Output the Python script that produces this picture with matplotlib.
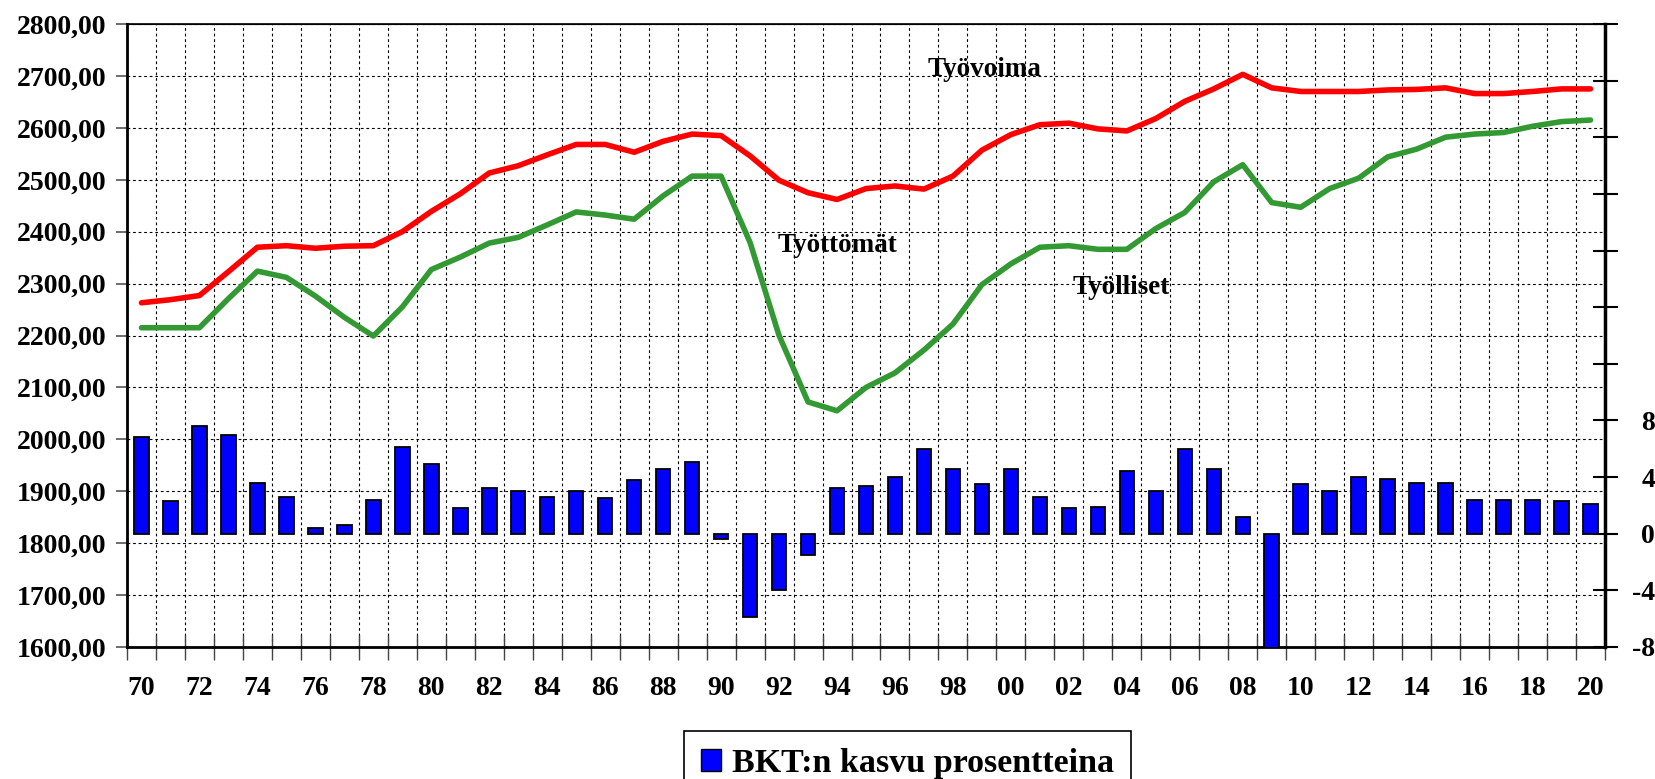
import matplotlib
matplotlib.use('Agg')
import matplotlib.pyplot as plt
import numpy as np
from matplotlib.patches import Rectangle

years = list(range(1970, 2021))
year_labels = [f"{y % 100:02d}" for y in years]

tyovoima = [2263, 2269, 2277, 2323, 2370, 2373, 2368, 2372, 2373, 2400,
            2439, 2473, 2513, 2527, 2548, 2568, 2568, 2553, 2574, 2588,
            2585, 2546, 2499, 2475, 2462, 2483, 2488, 2482, 2507, 2557,
            2587, 2606, 2609, 2598, 2594, 2618, 2651, 2675, 2703, 2677,
            2670, 2670, 2670, 2673, 2674, 2677, 2666, 2666, 2670, 2675,
            2675]
tyolliset = [2215, 2215, 2215, 2271, 2324, 2312, 2276, 2235, 2199, 2255,
             2327, 2351, 2378, 2389, 2413, 2438, 2432, 2424, 2469, 2507,
             2507, 2379, 2200, 2072, 2055, 2100, 2128, 2172, 2222, 2298,
             2338, 2370, 2373, 2366, 2366, 2406, 2437, 2496, 2529, 2456,
             2447, 2483, 2503, 2544, 2559, 2582, 2588, 2591, 2603, 2612,
             2615]
bkt = [6.8, 2.3, 7.6, 7.0, 3.6, 2.6, 0.4, 0.6, 2.4, 6.1,
       4.9, 1.8, 3.2, 3.0, 2.6, 3.0, 2.5, 3.8, 4.6, 5.1,
       -0.4, -5.9, -4.0, -1.5, 3.2, 3.4, 4.0, 6.0, 4.6, 3.5,
       4.6, 2.6, 1.8, 1.9, 4.4, 3.0, 6.0, 4.6, 1.2, -8.3,
       3.5, 3.0, 4.0, 3.9, 3.6, 3.6, 2.4, 2.4, 2.4, 2.3,
       2.1]

left_ticks = list(range(1600, 2801, 100))
right_ticks = list(range(-8, 37, 4))
right_labels = [str(v) if v <= 8 else '' for v in right_ticks]

plt.rcParams['font.family'] = ['Liberation Serif', 'DejaVu Serif']
plt.rcParams['font.weight'] = 'bold'

W, H = 1655, 779
fig = plt.figure(figsize=(W / 100, H / 100), dpi=100)
ax = fig.add_axes([127 / W, 1 - 647 / H, (1605 - 127) / W, (647 - 24) / H])
ax2 = ax.twinx()

x = np.arange(len(years))

ax2.bar(x, bkt, width=0.5, color='#0000FF', edgecolor='black', linewidth=1.3, zorder=3)
ax.plot(x, tyovoima, color='#FF0000', lw=4.0, solid_capstyle='round', solid_joinstyle='round', zorder=4)
ax.plot(x, tyolliset, color='#339933', lw=4.0, solid_capstyle='round', solid_joinstyle='round', zorder=4)

ax.set_xlim(-0.5, len(years) - 0.5)
ax.set_ylim(1600, 2800)
ax2.set_ylim(-8, 36)

# left axis
ax.set_yticks(left_ticks)
ax.set_yticklabels([f"{v},00" for v in left_ticks])
ax.tick_params(axis='y', direction='out', length=8, width=1.2, color='#555555', pad=7, labelsize=20)

# x axis: boundaries are major ticks (with grid), labels at centres of even years
ax.set_xticks(np.arange(-0.5, len(years), 1.0))
ax.set_xticklabels([])
ax.set_xticks(x[::2], minor=True)
ax.set_xticklabels(year_labels[::2], minor=True)
ax.tick_params(axis='x', which='major', direction='inout', length=18, width=1.0, color='#444444')
ax.tick_params(axis='x', which='minor', length=0, pad=21, labelsize=20)

# right axis
ax2.set_yticks(right_ticks)
ax2.set_yticklabels(right_labels)
ax2.tick_params(axis='y', direction='inout', length=18, width=1.5, color='black', pad=27, labelsize=20)
for lab in ax2.get_yticklabels():
    lab.set_horizontalalignment('right')

# grid
ax.grid(True, which='major', axis='both', color='black', linestyle=(0, (2.5, 2.5)), linewidth=0.8)
ax.set_axisbelow(True)

for sp in ['left', 'bottom']:
    ax.spines[sp].set_linewidth(2.0)
ax.spines['top'].set_linewidth(1.2)
ax2.spines['right'].set_linewidth(2.5)
for s in ax2.spines.values():
    s.set_color('black')

# series labels
ax.text(29.1, 2713, 'Työvoima', ha='center', va='center', fontsize=19.5, fontweight='bold')
ax.text(24.0, 2374, 'Työttömät', ha='center', va='center', fontsize=19.5, fontweight='bold')
ax.text(33.8, 2292, 'Työlliset', ha='center', va='center', fontsize=19.5, fontweight='bold')

# legend
handle = Rectangle((0, 0), 1, 1, facecolor='#0000FF', edgecolor='black', linewidth=1.0)
leg = fig.legend([handle], ['BKT:n kasvu prosentteina'], loc='upper left',
                 bbox_to_anchor=(684 / W, 1 - 731 / H), fontsize=24.5,
                 frameon=True, fancybox=False, edgecolor='black', framealpha=1,
                 handlelength=0.6, handleheight=0.6, handletextpad=0.3,
                 borderpad=0.5, borderaxespad=0)
leg.get_frame().set_linewidth(1.2)
for t in leg.get_texts():
    t.set_fontweight('bold')

fig.savefig('out.png', dpi=100)
